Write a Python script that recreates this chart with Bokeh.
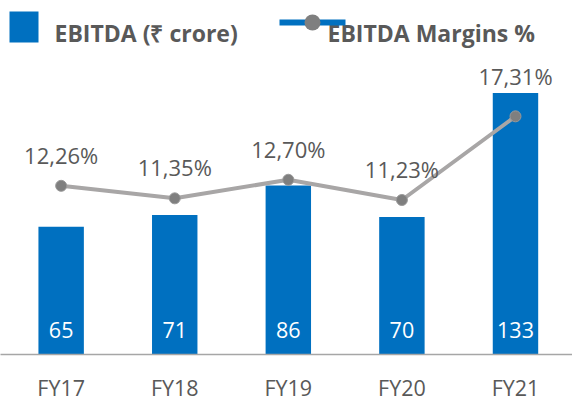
from bokeh.plotting import figure
from bokeh.models import ColumnDataSource, Range1d, FixedTicker, BoxAnnotation, Label
from bokeh.core.properties import value
from bokeh.embed import file_html
from bokeh.resources import INLINE

# ---- data ----
categories = ["FY17", "FY18", "FY19", "FY20", "FY21"]
ebitda = [65, 71, 86, 70, 133]
margins = [12.26, 11.35, 12.70, 11.23, 17.31]

ebitda_labels = [str(v) for v in ebitda]
margin_labels = [f"{m:.2f}%".replace(".", ",") for m in margins]
pct_label_dy = [-31, -31, -31, -31, -40]

idx = list(range(len(categories)))

BLUE = "#0070C0"
TEXT = "#595959"
LINE_GRAY = "#a8a6a6"
MARK_GRAY = "#7f7f7f"
FONT = "Open Sans"

src = ColumnDataSource(dict(x=idx, ebitda=ebitda, ebitda_labels=ebitda_labels,
                            margins=margins, margin_labels=margin_labels, dy=pct_label_dy))

BAR_TOP = 180.1
p = figure(width=572, height=404, output_backend="svg", toolbar_location=None,
           x_range=Range1d(-0.534, 4.502), y_range=Range1d(0, BAR_TOP),
           min_border=0, min_border_bottom=49, outline_line_color=None,
           background_fill_color="white", border_fill_color="white")
p.extra_y_ranges = {"pct": Range1d(0, BAR_TOP / 7.0)}

p.xgrid.visible = False
p.ygrid.visible = False
p.yaxis.visible = False

xa = p.xaxis[0]
xa.ticker = FixedTicker(ticks=idx)
xa.major_label_overrides = {i: c for i, c in zip(idx, categories)}
xa.axis_line_color = "#a6a6a6"
xa.axis_line_width = 1.5
xa.major_tick_line_color = None
xa.minor_tick_line_color = None
xa.major_tick_out = 0
xa.major_tick_in = 0
xa.major_label_text_font = FONT
xa.major_label_text_font_size = "21.5px"
xa.major_label_text_color = TEXT
xa.major_label_standoff = 18

p.vbar(x="x", top="ebitda", width=0.4, fill_color=BLUE, line_color=None, source=src)
p.text(x="x", y=0, text="ebitda_labels", source=src, y_offset=-25,
       text_align="center", text_baseline="middle", text_color="white",
       text_font=value(FONT), text_font_size="21.5px")

p.line(x="x", y="margins", source=src, y_range_name="pct", line_color=LINE_GRAY, line_width=4)
p.scatter(x="x", y="margins", source=src, y_range_name="pct", size=11,
          fill_color=MARK_GRAY, line_color="#999999", line_width=1)
p.text(x="x", y="margins", text="margin_labels", source=src, y_range_name="pct",
       y_offset="dy", text_align="center", text_baseline="middle", text_color=TEXT,
       text_font=value(FONT), text_font_size="22px")

# ---- legend (drawn in canvas pixels) ----
def box(l, r, t, b, color, radius=0):
    return BoxAnnotation(left=l, right=r, top=t, bottom=b,
                         left_units="canvas", right_units="canvas",
                         top_units="canvas", bottom_units="canvas",
                         fill_color=color, fill_alpha=1, line_color=None,
                         border_radius=radius, level="overlay")

leg_style = dict(x_units="canvas", y_units="canvas", text_font=FONT, text_font_size="23px",
                 text_font_style="bold", text_color=TEXT, text_baseline="alphabetic",
                 text_align="left")
p.add_layout(box(9, 38, 11, 42, BLUE))
p.add_layout(Label(x=54, y=32, text="EBITDA (₹ crore)", **leg_style))
p.add_layout(Label(x=327, y=32, text="EBITDA Margins %", **leg_style))
p.add_layout(box(279, 345, 19, 25, BLUE))
p.add_layout(box(304, 320, 14, 30, MARK_GRAY, radius=8))

open("out.html", "w").write(file_html(p, INLINE))
